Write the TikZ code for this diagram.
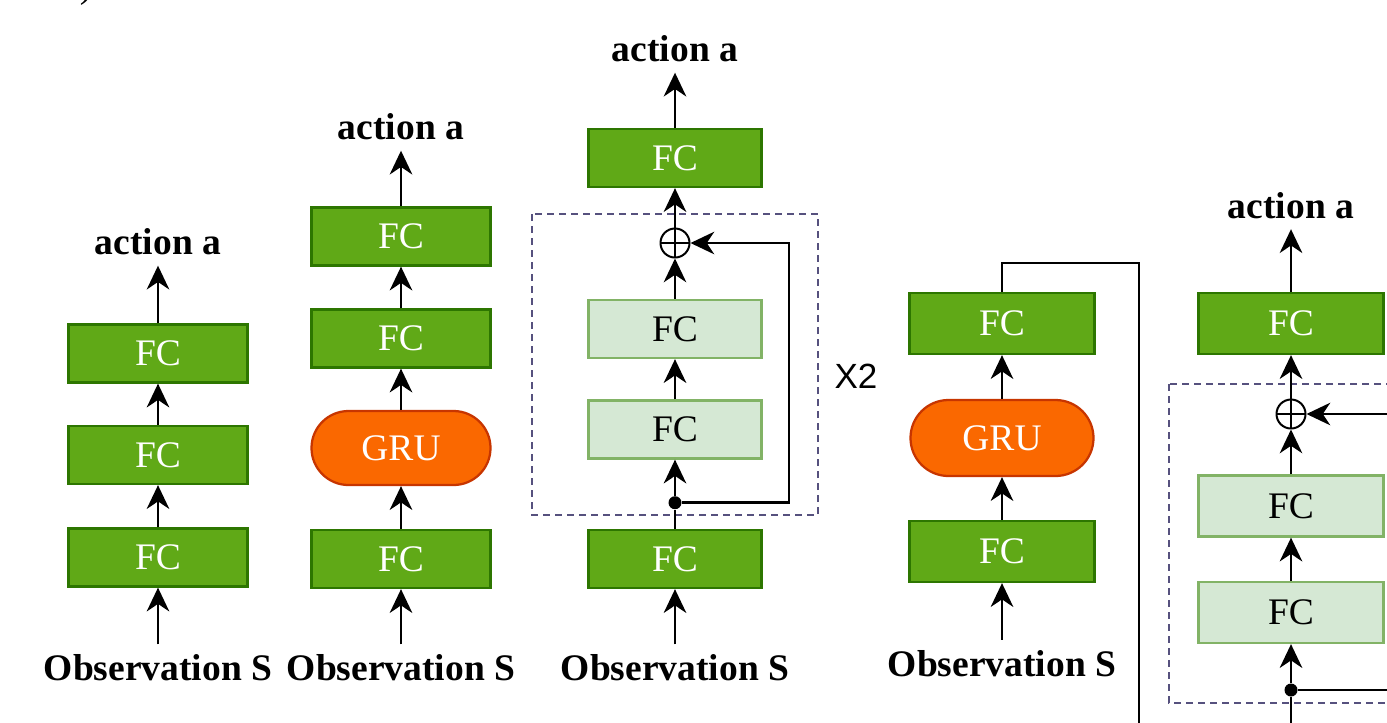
\documentclass[tikz,border=0pt]{standalone}
\usepackage{fontspec}
\setmainfont{Liberation Serif}
\newfontfamily\xfont{Liberation Sans}
\usepackage{tikz}
\usepackage{xcolor}
\usetikzlibrary{arrows.meta, positioning}
\definecolor{fcgreen}{HTML}{60A917}
\definecolor{fcline}{HTML}{2D7600}
\definecolor{lightfill}{HTML}{D5E8D4}
\definecolor{lightline}{HTML}{82B366}
\definecolor{gruorange}{HTML}{FA6800}
\definecolor{gruline}{HTML}{C73500}
\definecolor{loopline}{HTML}{56517E}

\begin{document}
\begin{tikzpicture}[x=0.4pt, y=-0.4pt,
  every node/.style={font=\fontsize{15}{18}\selectfont},
  fc/.style={rectangle, draw=fcline, fill=fcgreen, text=white, line width=0.9pt,
             minimum width=71.6pt, minimum height=23.2pt, inner sep=0pt},
  fclight/.style={fc, draw=lightline, fill=lightfill, text=black},
  gru/.style={fc, draw=gruline, fill=gruorange, minimum height=29.6pt, rounded corners=14.8pt},
  wide/.style={minimum width=74pt, minimum height=24.4pt},
  lbl/.style={font=\fontsize{15}{18}\selectfont\bfseries, inner sep=4pt},
  sum/.style={circle, draw, line width=0.8pt, minimum size=11.6pt, inner sep=0pt,
              path picture={\draw[line width=0.8pt]
                (path picture bounding box.north) -- (path picture bounding box.south)
                (path picture bounding box.west) -- (path picture bounding box.east);}},
  arr/.style={-{Stealth[length=9.5pt, width=9pt, inset=3pt]}, line width=1pt},
  wire/.style={line width=1pt},
  loopbox/.style={draw=loopline, dash pattern=on 2.8pt off 2pt, line width=0.8pt},
  dot/.style={circle, fill, inner sep=0pt, minimum size=5.2pt}
]
\useasboundingbox (0,0) rectangle (1387,722);
\clip (0,0) rectangle (1387,722);

% cut-off tag of the previous panel
\node[anchor=south, inner sep=0pt] (tag) at (86,6) {)};

% plain MLP
\node[fc] (fa1) at (158,557.5) {FC};
\node[fc] (fa2) at (158,455) {FC};
\node[fc] (fa3) at (158,353.5) {FC};
\node[lbl] (acta) at (158,242) {action a};
\node[lbl] (obsa) at (158,668) {Observation S};
\draw[arr] (obsa) -- (fa1);
\draw[arr] (fa1) -- (fa2);
\draw[arr] (fa2) -- (fa3);
\draw[arr] (fa3) -- (acta);

% MLP with GRU
\node[fc] (fb1) at (401,559) {FC};
\node[gru] (gb) at (401,448) {GRU};
\node[fc] (fb2) at (401,338.5) {FC};
\node[fc] (fb3) at (401,236.5) {FC};
\node[lbl] (actb) at (401,127) {action a};
\node[lbl] (obsb) at (401,668) {Observation S};
\draw[arr] (obsb) -- (fb1);
\draw[arr] (fb1) -- (gb);
\draw[arr] (gb) -- (fb2);
\draw[arr] (fb2) -- (fb3);
\draw[arr] (fb3) -- (actb);

% residual MLP
\draw[loopbox] (532,214) rectangle (818,515);
\node[fc, minimum width=69.2pt] (fc1) at (675,559) {FC};
\node[dot] (dotc) at (675,502.7) {};
\node[fclight, minimum width=69.2pt] (fc2) at (675,429.5) {FC};
\node[fclight, minimum width=69.2pt] (fc3) at (675,329) {FC};
\node[sum] (sumc) at (675,243) {};
\node[fc, minimum width=69.2pt] (fc4) at (675,158) {FC};
\node[lbl] (actc) at (675,49) {action a};
\node[lbl] (obsc) at (675,668) {Observation S};
\node[font=\fontsize{14}{16}\xfont] (repc) at (856,376) {X2};
\coordinate (backc) at (789,243);
\draw[arr] (obsc) -- (fc1);
\draw[wire] (fc1) -- (dotc);
\draw[arr] (dotc) -- (fc2);
\draw[arr] (fc2) -- (fc3);
\draw[arr] (fc3) -- (sumc);
\draw[arr] (dotc) -| (backc) -- (sumc);
\draw[arr] (sumc) -- (fc4);
\draw[arr] (fc4) -- (actc);

% GRU encoder feeding the residual head
\node[fc, wide] (fd1) at (1002,551.5) {FC};
\node[gru, minimum width=73.2pt, minimum height=30.4pt, rounded corners=15.2pt] (gd) at (1002,438) {GRU};
\node[fc, wide] (fd2) at (1002,323.5) {FC};
\node[lbl] (obsd) at (1002,663.5) {Observation S};
\coordinate (turnd) at (1139,263);
\coordinate (downd) at (1139,740);
\draw[arr] (obsd) -- (fd1);
\draw[arr] (fd1) -- (gd);
\draw[arr] (gd) -- (fd2);
\draw[wire] (fd2.north) |- (turnd) -- (downd);

% residual head
\draw[loopbox] (1169,384) rectangle (1460,703);
\node[fclight, wide] (fe1) at (1291,612.5) {FC};
\node[fclight, wide] (fe2) at (1291,506) {FC};
\node[sum] (sume) at (1291,414) {};
\node[fc, wide] (fe3) at (1291,323.5) {FC};
\node[dot] (dote) at (1291,690) {};
\node[lbl] (acte) at (1291,205.5) {action a};
\coordinate (ine) at (1291,740);
\coordinate (oute) at (1430,690);
\coordinate (backe) at (1430,414);
\draw[wire] (ine) -- (dote);
\draw[arr] (dote) -- (fe1);
\draw[arr] (fe1) -- (fe2);
\draw[arr] (fe2) -- (sume);
\draw[arr] (sume) -- (fe3);
\draw[arr] (fe3) -- (acte);
\draw[wire] (dote) -- (oute);
\draw[arr] (backe) -- (sume);

\end{tikzpicture}
\end{document}
